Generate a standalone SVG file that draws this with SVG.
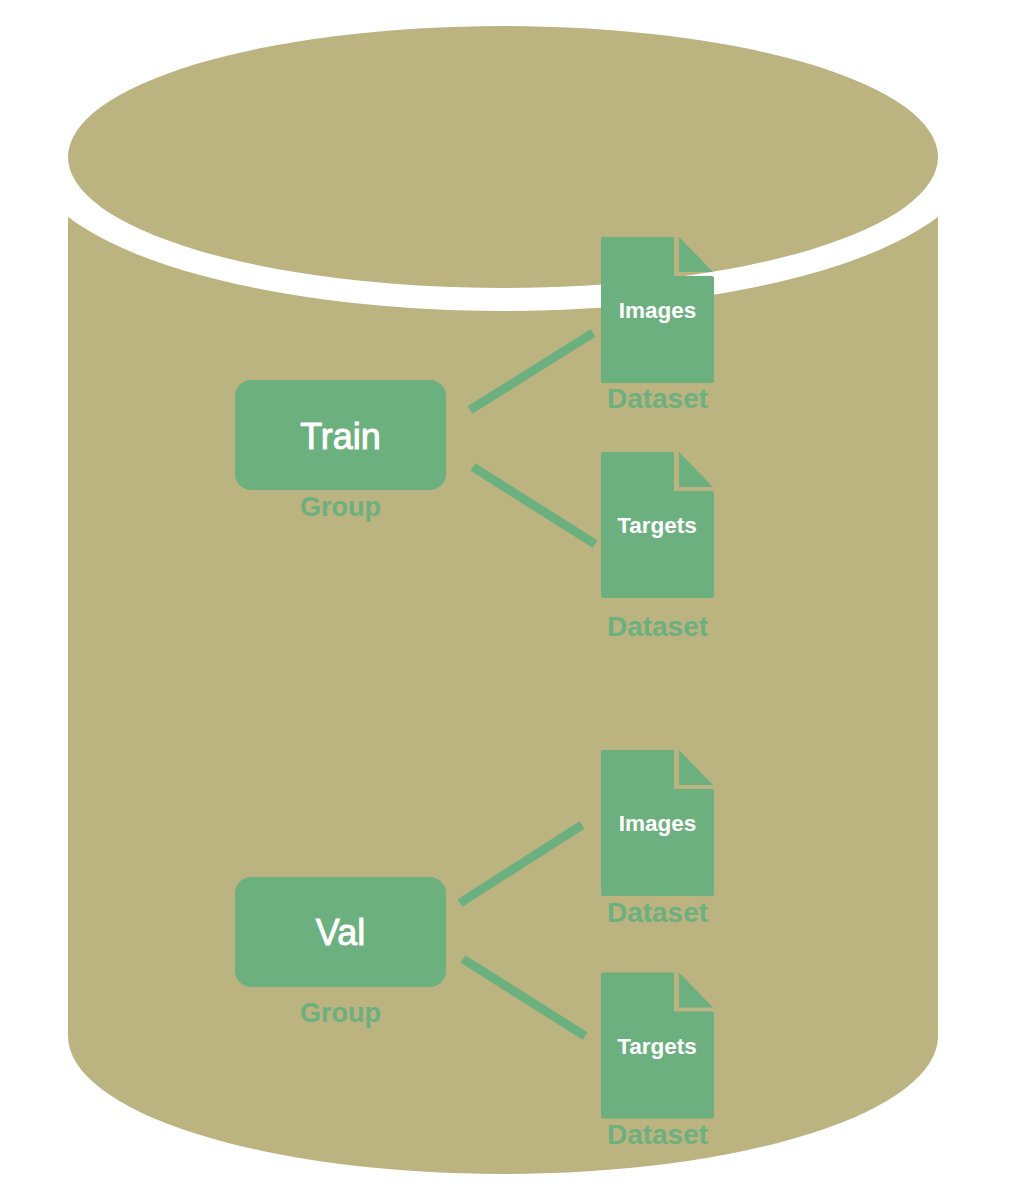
<svg xmlns="http://www.w3.org/2000/svg" width="1012" height="1198" viewBox="0 0 1012 1198">
<style>
.tan{fill:#bbb380}
.g{fill:#6db080}
.conn line{stroke:#6db080;stroke-width:9;stroke-linecap:butt}
text{font-family:"Liberation Sans",Arial,sans-serif;text-anchor:middle}
.title{fill:#fff;font-size:36px;stroke:#fff;stroke-width:0.9px}
.doc{fill:#fff;font-size:22.500px;font-weight:bold}
.lab{fill:#6db080;font-size:28px;font-weight:bold}
.grp{fill:#6db080;font-size:27px;font-weight:bold}
</style>
<defs>
<g id="file">
<path class="g" d="M2 0H73V39H111a2 2 0 0 1 2 2V144a2 2 0 0 1-2 2H2a2 2 0 0 1-2-2V2a2 2 0 0 1 2-2Z"/>
<path class="g" d="M78 0L112 35H78Z"/>
</g>
</defs>
<rect width="1012" height="1198" fill="#fff"/>
<g id="cylinder">
<path class="tan" d="M68 157H938V1036A435 138 0 0 1 68 1036Z"/>
<ellipse cx="503" cy="157" rx="472" ry="154" fill="#fff"/>
<rect x="0" y="0" width="68" height="400" fill="#fff"/>
<rect x="938" y="0" width="74" height="400" fill="#fff"/>
<ellipse class="tan" cx="503" cy="157" rx="435" ry="131"/>
</g>
<g id="connectors" class="conn">
<line x1="470" y1="410" x2="593" y2="333"/>
<line x1="473" y1="467" x2="595" y2="544"/>
<line x1="460" y1="903" x2="582" y2="825"/>
<line x1="463" y1="959" x2="585" y2="1036"/>
</g>
<g id="train">
<rect class="g" x="235" y="380" width="211" height="110" rx="16"/>
<text class="title" x="340.500" y="449">Train</text>
<text class="grp" x="340.500" y="516">Group</text>
</g>
<g id="train-images">
<use href="#file" x="601" y="237"/>
<text class="doc" x="657.500" y="318">Images</text>
<text class="lab" x="657.500" y="408">Dataset</text>
</g>
<g id="train-targets">
<use href="#file" x="601" y="452"/>
<text class="doc" x="657" y="533">Targets</text>
<text class="lab" x="657.500" y="636">Dataset</text>
</g>
<g id="val">
<rect class="g" x="235" y="877" width="211" height="110" rx="16"/>
<text class="title" x="340.500" y="945">Val</text>
<text class="grp" x="340.500" y="1022">Group</text>
</g>
<g id="val-images">
<use href="#file" x="601" y="750"/>
<text class="doc" x="657.500" y="831">Images</text>
<text class="lab" x="657.500" y="922">Dataset</text>
</g>
<g id="val-targets">
<use href="#file" x="601" y="972.500"/>
<text class="doc" x="657" y="1053.500">Targets</text>
<text class="lab" x="657.500" y="1144">Dataset</text>
</g>
</svg>
